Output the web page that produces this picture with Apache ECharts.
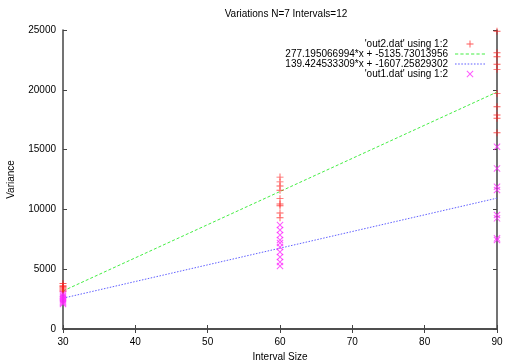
<!DOCTYPE html>
<html><head><meta charset="utf-8">
<script src="https://cdn.jsdelivr.net/npm/echarts@6/dist/echarts.min.js"></script>
<style>html,body{margin:0;padding:0;background:#fff}#c{width:514px;height:360px}</style>
</head><body><div id="c"></div>
<script>
var intervalSizes = [30, 60, 90];
var out2At30 = [3800, 3650, 3550, 3450, 3350, 3250, 3150];
var out2At60 = [12700, 12300, 11950, 11600, 10900, 10450, 10300, 9700, 9300];
var out2At90 = [24900, 23100, 22770, 22130, 21710, 19700, 18590, 17890, 17620, 16410];
var out1At30 = [2950, 2800, 2700, 2600, 2500, 2400, 2300, 2200, 2100];
var out1At60 = [8700, 8280, 7860, 7440, 7190, 6860, 6440, 6020, 5600, 5270];
var out1At90 = [15240, 13430, 11900, 11620, 9530, 9250, 7580, 7440];
var fit2 = {slope: 277.195066994, intercept: -5135.73013956};
var fit1 = {slope: 139.424533309, intercept: -1607.25829302};
var legendNames = ["'out2.dat' using 1:2", "277.195066994*x + -5135.73013956", "139.424533309*x + -1607.25829302", "'out1.dat' using 1:2"];

function pts(groups) {
  var r = [];
  groups.forEach(function (g, i) { g.forEach(function (v) { r.push([intervalSizes[i], v]); }); });
  return r;
}
function fitLine(f) {
  var xs = [intervalSizes[0], intervalSizes[intervalSizes.length - 1]];
  return xs.map(function (x) { return [x, f.slope * x + f.intercept]; });
}
var plusPath = 'path://M2.6,0h0.8v6h-0.8z M0,2.6h6v0.8h-6z';
var crossPath = 'path://M0,0.6L0.6,0L6,5.4L5.4,6Z M5.4,0L6,0.6L0.6,6L0,5.4Z';
var dashPath = 'path://M0,0h3v1h-3z M5,0h3v1h-3z M10,0h3v1h-3z M15,0h3v1h-3z M20,0h3v1h-3z M25,0h3v1h-3z';
var dotPath = 'path://M0,0h1.5v1h-1.5z M3,0h1.5v1h-1.5z M6,0h1.5v1h-1.5z M9,0h1.5v1h-1.5z M12,0h1.5v1h-1.5z M15,0h1.5v1h-1.5z M18,0h1.5v1h-1.5z M21,0h1.5v1h-1.5z M24,0h1.5v1h-1.5z M27,0h1.5v1h-1.5z';

var axisCol = '#444';
var font = 'Liberation Sans, Arial, sans-serif';
var chart = echarts.init(document.getElementById('c'), null, {renderer: 'canvas'});
chart.setOption({
  animation: false,
  backgroundColor: '#fff',
  title: {text: 'Variations N=7 Intervals=12', left: 281, top: 4, textAlign: 'center',
    textStyle: {fontSize: 10, fontWeight: 'normal', color: '#000', fontFamily: font}},
  legend: {
    orient: 'vertical', right: 24, top: 34, align: 'right', itemGap: 0,
    itemWidth: 30, itemHeight: 7,
    textStyle: {fontSize: 10, lineHeight: 9.3, color: '#000', fontFamily: font, padding: [0, 2, 0, 0]},
    data: [
      {name: legendNames[0], icon: plusPath},
      {name: legendNames[1], icon: dashPath},
      {name: legendNames[2], icon: dotPath},
      {name: legendNames[3], icon: crossPath}
    ]
  },
  grid: {left: 63, right: 17, top: 30, bottom: 31, containLabel: false, outerBoundsMode: 'none'},
  xAxis: [
    {type: 'value', min: 30, max: 90, interval: 10, name: 'Interval Size', nameLocation: 'middle', nameGap: 19,
      nameTextStyle: {fontSize: 10, color: '#000', fontFamily: font},
      axisLine: {lineStyle: {color: axisCol, width: 1.5}}, axisTick: {inside: true, length: 4, lineStyle: {color: axisCol}},
      axisLabel: {fontSize: 10, color: '#000', fontFamily: font, margin: 8}, splitLine: {show: false}},
    {type: 'value', position: 'top', min: 30, max: 90, interval: 10,
      axisLine: {show: true, lineStyle: {color: axisCol, width: 1.5}}, axisTick: {inside: true, length: 4, lineStyle: {color: axisCol}},
      axisLabel: {show: false}, splitLine: {show: false}}
  ],
  yAxis: [
    {type: 'value', min: 0, max: 25000, interval: 5000, name: 'Variance', nameLocation: 'middle', nameGap: 47,
      nameTextStyle: {fontSize: 10, color: '#000', fontFamily: font},
      axisLine: {show: true, lineStyle: {color: axisCol, width: 1.5}}, axisTick: {show: true, inside: true, length: 4, lineStyle: {color: axisCol}},
      axisLabel: {fontSize: 10, color: '#000', fontFamily: font, margin: 7, formatter: function (v) { return String(v); }}, splitLine: {show: false}},
    {type: 'value', position: 'right', min: 0, max: 25000, interval: 5000,
      axisLine: {show: true, lineStyle: {color: axisCol, width: 1.5}}, axisTick: {show: true, inside: true, length: 4, lineStyle: {color: axisCol}},
      axisLabel: {show: false}, splitLine: {show: false}}
  ],
  series: [
    {name: legendNames[0], type: 'scatter', data: pts([out2At30, out2At60, out2At90]), symbol: plusPath, symbolSize: 7,
      itemStyle: {color: '#ff2020', opacity: 0.75}, z: 3},
    {name: legendNames[1], type: 'line', data: fitLine(fit2), showSymbol: false, symbol: 'none',
      lineStyle: {color: '#44ee44', width: 1, type: [3, 2]}, itemStyle: {color: '#44ee44'}, z: 2},
    {name: legendNames[2], type: 'line', data: fitLine(fit1), showSymbol: false, symbol: 'none',
      lineStyle: {color: '#6060ff', width: 1, type: [1.5, 1.5]}, itemStyle: {color: '#6060ff'}, z: 2},
    {name: legendNames[3], type: 'scatter', data: pts([out1At30, out1At60, out1At90]), symbol: crossPath, symbolSize: 7,
      itemStyle: {color: '#ff20ff', opacity: 0.75}, z: 3}
  ]
});
</script></body></html>
